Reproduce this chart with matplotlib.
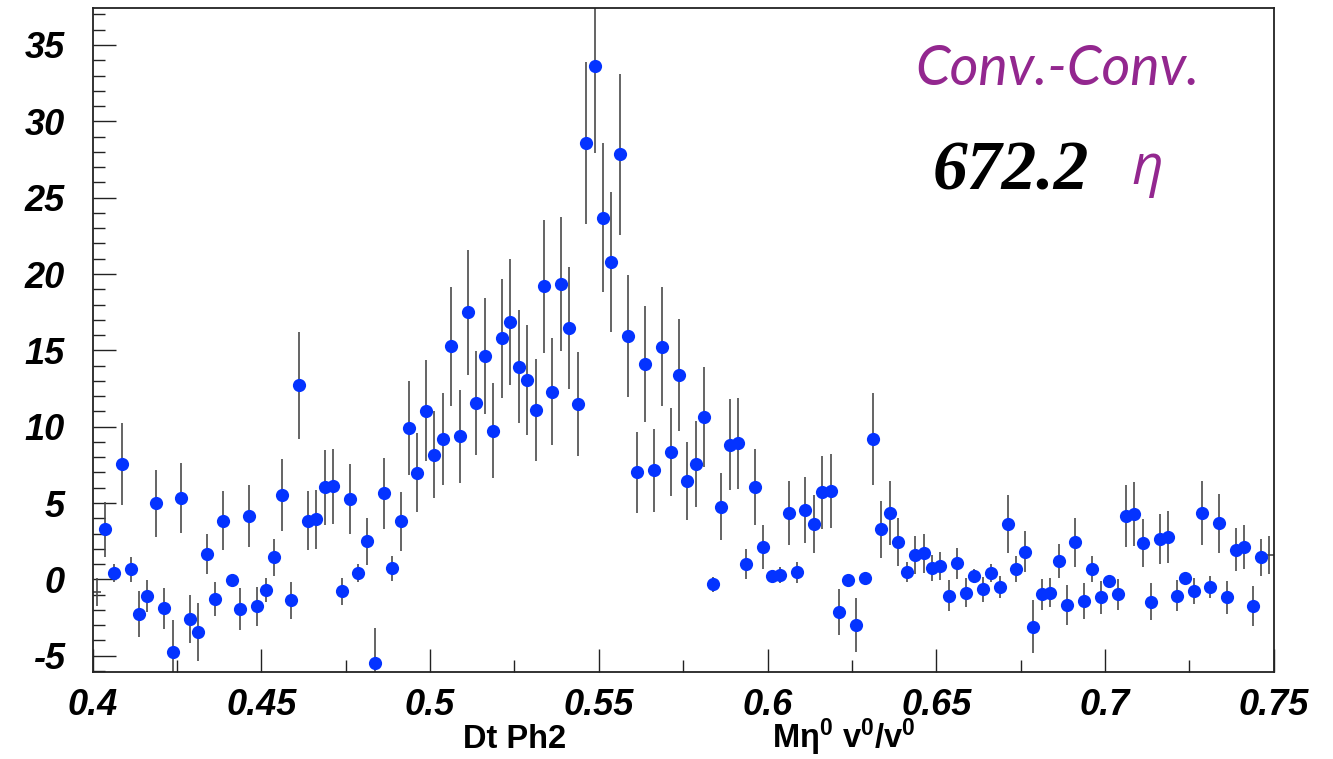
import matplotlib
matplotlib.use("Agg")
import matplotlib.pyplot as plt
from matplotlib.ticker import MultipleLocator, FormatStrFormatter
import numpy as np

# ========================================================================
# histogram binning: 140 bins between 0.40 and 0.75
x_lo = 0.40
x_hi = 0.75
n_bins = 140

# bin contents
counts = [
    -0.83, 3.29, 0.43, 7.55, 0.65, -2.25, -1.11, 4.98, -1.90, -4.78,
    5.32, -2.60, -3.47, 1.66, -1.29, 3.84, -0.05, -1.94, 4.15, -1.77,
    -0.68, 1.44, 5.54, -1.38, 12.72, 3.84, 3.93, 6.02, 6.09, -0.79,
    5.28, 0.41, 2.49, -5.46, 5.63, 0.72, 3.80, 9.91, 6.98, 11.04,
    8.16, 9.21, 15.28, 9.38, 17.48, 11.57, 14.62, 9.73, 15.79, 16.86,
    13.94, 13.03, 11.11, 19.20, 12.28, 19.34, 16.47, 11.51, 28.56, 33.60,
    23.69, 20.80, 27.83, 15.95, 7.02, 14.08, 7.13, 15.25, 8.33, 13.38,
    6.46, 7.55, 10.63, -0.33, 4.75, 8.82, 8.90, 1.00, 6.07, 2.14,
    0.22, 0.28, 4.36, 0.46, 4.54, 3.60, 5.70, 5.78, -2.16, -0.07,
    -2.99, 0.09, 9.19, 3.27, 4.32, 2.44, 0.50, 1.61, 1.70, 0.76,
    0.87, -1.07, 1.05, -0.87, 0.20, -0.66, 0.43, -0.50, 3.60, 0.67,
    1.81, -3.10, -0.98, -0.87, 1.20, -1.70, 2.44, -1.42, 0.67, -1.18,
    -0.11, -0.98, 4.15, 4.26, 2.38, -1.47, 2.64, 2.79, -1.07, 0.06,
    -0.74, 4.36, -0.50, 3.67, -1.18, 1.94, 2.14, -1.73, 1.44, 1.60,
]

# bin errors
errors = [
    0.9, 1.8, 0.6, 2.7, 0.8, 1.5, 1.05, 2.2, 1.35, 2.1,
    2.3, 1.6, 1.9, 1.3, 1.1, 1.95, 0.3, 1.4, 2.0, 1.3,
    0.8, 1.2, 2.35, 1.2, 3.5, 1.95, 1.95, 2.45, 2.45, 0.9,
    2.3, 0.6, 1.55, 2.3, 2.35, 0.8, 1.95, 3.1, 2.6, 3.3,
    2.85, 3.0, 3.9, 3.05, 4.1, 3.4, 3.8, 3.1, 3.9, 4.1,
    3.7, 3.6, 3.35, 4.35, 3.5, 4.4, 4.0, 3.4, 5.3, 5.7,
    4.9, 4.6, 5.3, 4.0, 2.65, 3.8, 2.7, 3.9, 2.9, 3.65,
    2.55, 2.8, 3.3, 0.5, 2.2, 3.0, 3.0, 1.0, 2.5, 1.45,
    0.4, 0.5, 2.1, 0.7, 2.15, 1.9, 2.4, 2.4, 1.5, 0.3,
    1.75, 0.3, 3.0, 1.85, 2.1, 1.55, 0.65, 1.25, 1.3, 0.85,
    0.9, 1.0, 1.0, 0.95, 0.45, 0.8, 0.6, 0.7, 1.9, 0.85,
    1.35, 1.75, 1.0, 0.95, 1.1, 1.3, 1.6, 1.2, 0.85, 1.1,
    0.3, 1.0, 2.05, 2.1, 1.55, 1.2, 1.65, 1.7, 1.0, 0.3,
    0.85, 2.1, 0.7, 1.95, 1.1, 1.4, 1.45, 1.3, 1.2, 1.25,
]

x_ticks = [0.4, 0.45, 0.5, 0.55, 0.6, 0.65, 0.7, 0.75]
y_ticks = [-5, 0, 5, 10, 15, 20, 25, 30, 35]

label_left = "Dt Ph2"
label_right = r"M$\eta^{0}$ v$^{0}$/v$^{0}$"
title_text = "Conv.-Conv."
yield_text = "672.2"
particle_text = "η"


def main():
    plt.rcParams["axes.unicode_minus"] = False
    plt.rcParams["mathtext.fontset"] = "custom"
    plt.rcParams["mathtext.rm"] = "Liberation Sans:bold"
    plt.rcParams["mathtext.it"] = "Liberation Serif"
    plt.rcParams["mathtext.default"] = "rm"

    edges = np.linspace(x_lo, x_hi, n_bins + 1)
    centers = 0.5 * (edges[:-1] + edges[1:])
    half_w = 0.5 * (edges[1] - edges[0])
    y = np.array(counts)
    ey = np.array(errors)

    fig = plt.figure(figsize=(13.33, 7.59), dpi=100)
    ax = fig.add_axes([0.0695, 0.115, 0.886, 0.874])

    # ====================================================================
    # error bars (x error hidden under the marker, as in ROOT)
    ax.errorbar(centers, y, yerr=ey, xerr=half_w, fmt="none",
                ecolor="#4a4a4a", elinewidth=1.2, capsize=0, zorder=2)
    # ROOT skips markers sitting on the frame edge
    ax.plot(centers[1:-1], y[1:-1], "o", color="#0433ff", markersize=9.5,
            markeredgewidth=0, zorder=3)

    ax.set_xlim(x_lo, x_hi)
    ax.set_ylim(-6.05, 37.4)

    ax.set_xticks(x_ticks)
    ax.set_yticks(y_ticks)
    ax.xaxis.set_minor_locator(MultipleLocator(0.025))
    ax.yaxis.set_minor_locator(MultipleLocator(1))
    ax.xaxis.set_major_formatter(FormatStrFormatter("%g"))

    ax.tick_params(which="major", direction="in", length=16.5, width=1.0,
                   color="#222222")
    ax.tick_params(which="minor", direction="in", length=8.3, width=1.0,
                   color="#222222")
    ax.tick_params(axis="y", which="major", pad=20)
    ax.tick_params(axis="x", which="major", pad=12)
    for lab in ax.get_xticklabels() + ax.get_yticklabels():
        lab.set_fontfamily("Liberation Sans")
        lab.set_fontweight("bold")
        lab.set_fontstyle("italic")
        lab.set_fontsize(26)

    for sp in ax.spines.values():
        sp.set_linewidth(1.3)
        sp.set_color("#222222")

    # ====================================================================
    # axis titles
    fig.text(0.386, 0.0145, label_left, ha="center", va="baseline",
             fontsize=23.5, fontweight="bold", family="Liberation Sans")
    fig.text(0.579, 0.0145, label_right, ha="left", va="baseline",
             fontsize=23.5, fontweight="bold", family="Liberation Sans")

    # annotations
    fig.text(0.6864, 0.888, title_text, ha="left", va="baseline",
             fontsize=40, style="italic", color="#93278f", family="Lato")
    fig.text(0.700, 0.7497, yield_text, ha="left", va="baseline",
             fontsize=50, style="italic", fontweight="bold", color="black",
             family="Liberation Serif")
    fig.text(0.849, 0.758, particle_text, ha="left", va="baseline",
             fontsize=40, style="italic", color="#93278f",
             family=["Open Sans", "DejaVu Sans"])

    fig.savefig("out.png", dpi=100, facecolor="white")


if __name__ == "__main__":
    main()
